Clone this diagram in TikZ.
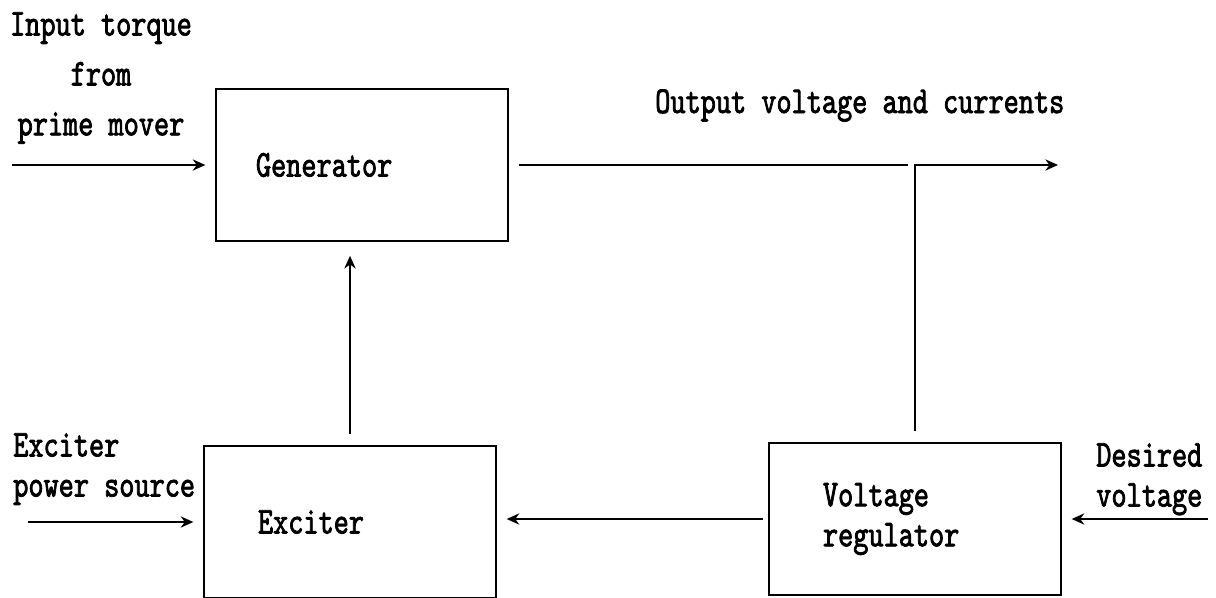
\documentclass[tikz,border=0pt]{standalone}
\usepackage{fontspec}
\newfontfamily\dosfont{lmmono10-regular.otf}[FakeStretch=0.76,FakeBold=2]
\usetikzlibrary{arrows.meta,positioning}

\begin{document}
\begin{tikzpicture}[
    x=0.025cm, y=-0.025cm,
    block/.style={draw, line width=1.1pt, minimum height=3.8cm, text width=4.6cm, inner xsep=1.35cm, align=left, font=\dosfont\fontsize{27pt}{28.5pt}\selectfont},
    lbl/.style={inner sep=0pt, font=\dosfont\fontsize{27pt}{28.5pt}\selectfont},
    arr/.style={-{Stealth[length=9pt,width=8pt]}, line width=1.3pt, shorten >=7pt},
    wire/.style={line width=1.3pt}
]
\useasboundingbox (0,0) rectangle (1216,598);

% blocks
\node[block, inner xsep=1cm, text width=5.3cm] (gen) at (362,165) {Generator};
\node[block] (exc) at (350,522) {Exciter};
\node[block] (reg) at (915,519) {Voltage\\regulator};

% outside labels
\node[lbl, align=center, anchor=north, font=\dosfont\fontsize{27pt}{35.5pt}\selectfont] (torque) at (101,12) {Input torque\\from\\prime mover};
\node[lbl, align=left, anchor=north west] (pwr) at (13,433) {Exciter\\power source};
\node[lbl, anchor=base west] (outlbl) at (655,113) {Output voltage and currents};
\node[lbl, align=left, anchor=north west] (des) at (1096,443) {Desired\\voltage};

\coordinate (tin) at (12,165);
\coordinate (tpwr) at (28,522);
\coordinate (tdes) at (1208,519);
\coordinate (tap) at (908,165);
\coordinate (tout) at (1058,165);

\draw[arr] (tin) -- (gen.west);
\draw[wire, shorten <=7pt] (gen.east) -- (tap);
\draw[arr, shorten <=8pt, shorten >=0pt] (reg.north) |- (tout);
\draw[arr, shorten <=8pt, shorten >=10pt] (exc.north) -- (exc.north |- gen.south);
\draw[arr] (tpwr) -- (exc.west);
\draw[arr, shorten <=4pt] (reg.west) -- (exc.east |- reg.west);
\draw[arr] (tdes) -- (reg.east);
\end{tikzpicture}
\end{document}
